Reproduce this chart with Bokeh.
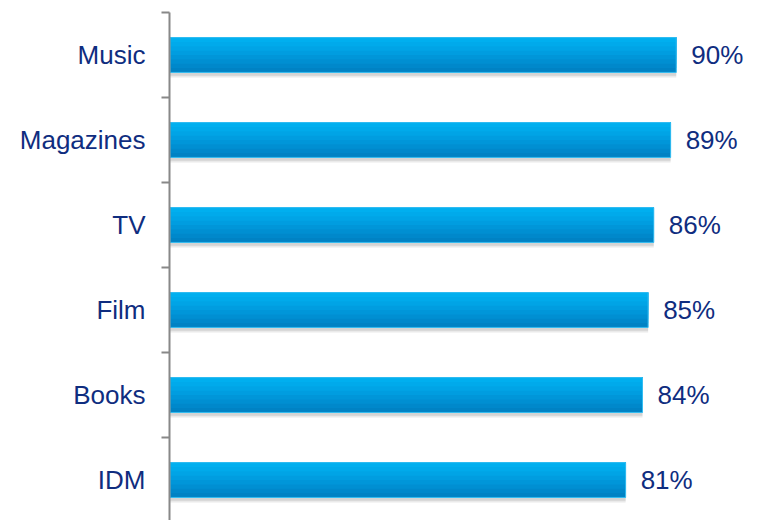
from bokeh.plotting import figure
from bokeh.models import Range1d, FixedTicker, ColumnDataSource, LabelSet
from bokeh.core.properties import value
from bokeh.embed import file_html
from bokeh.resources import INLINE

categories = ["Music", "Magazines", "TV", "Film", "Books", "IDM"]
values = [90, 89, 86, 85, 84, 81]
value_labels = ["90%", "89%", "86%", "85%", "84%", "81%"]

n = len(categories)
ypos = [n - 1 - i for i in range(n)]  # Music at top
src = ColumnDataSource(dict(
    y=ypos,
    v=values,
    lab=value_labels,
    y_shadow=[y - 0.05 for y in ypos],
))

p = figure(width=759, height=520, output_backend="svg", toolbar_location=None,
           x_range=Range1d(-0.1, 104.8), y_range=Range1d(-0.476, n - 0.5),
           min_border_left=169, min_border_right=0, min_border_top=12, min_border_bottom=0)
p.outline_line_color = None
p.xgrid.visible = False
p.ygrid.visible = False
p.xaxis.visible = False
p.background_fill_color = "white"
p.border_fill_color = "white"

bh = 0.41
# soft shadow
p.hbar(y="y_shadow", right="v", left=0, height=bh + 0.02, source=src,
       fill_color="#888888", fill_alpha=0.18, line_color=None)
p.hbar(y="y_shadow", right="v", left=0, height=bh - 0.02, source=src,
       fill_color="#777777", fill_alpha=0.18, line_color=None)

# vertical gradient: bright top -> darker bottom, built as stacked layers
grad = ["#0082C4", "#0088CB", "#008FD2", "#0096D9", "#009DE0", "#00A4E6", "#00AAEB", "#00AFEF"]
k = len(grad)
for i, col in enumerate(grad):
    frac = 1 - i / k
    h = bh * frac
    off = bh / 2 - h / 2
    p.hbar(y=[y + off for y in ypos], right=values, left=0, height=h,
           fill_color=col, line_color=None)
# outline highlight
p.hbar(y="y", right="v", left=0, height=bh, source=src,
       fill_color=None, line_color="#33BDF2", line_width=1)

labels = LabelSet(x="v", y="y", text="lab", source=src, x_offset=15,
                  text_align="left", text_baseline="middle",
                  text_font=value("Liberation Sans"), text_font_size="26px",
                  text_color="#0F2D7F")
p.add_layout(labels)

ax = p.yaxis[0]
ax.ticker = FixedTicker(ticks=ypos, minor_ticks=[y + 0.5 for y in range(n)])
ax.major_label_overrides = {y: c for y, c in zip(ypos, categories)}
ax.major_label_text_font = "Liberation Sans"
ax.major_label_text_font_size = "26px"
ax.major_label_text_color = "#0F2D7F"
ax.major_label_standoff = 16
ax.major_tick_out = 0
ax.major_tick_in = 0
ax.minor_tick_out = 8
ax.minor_tick_in = 0
ax.minor_tick_line_color = "#888888"
ax.minor_tick_line_width = 2
ax.axis_line_color = "#888888"
ax.axis_line_width = 2

open("out.html", "w").write(file_html(p, INLINE))
